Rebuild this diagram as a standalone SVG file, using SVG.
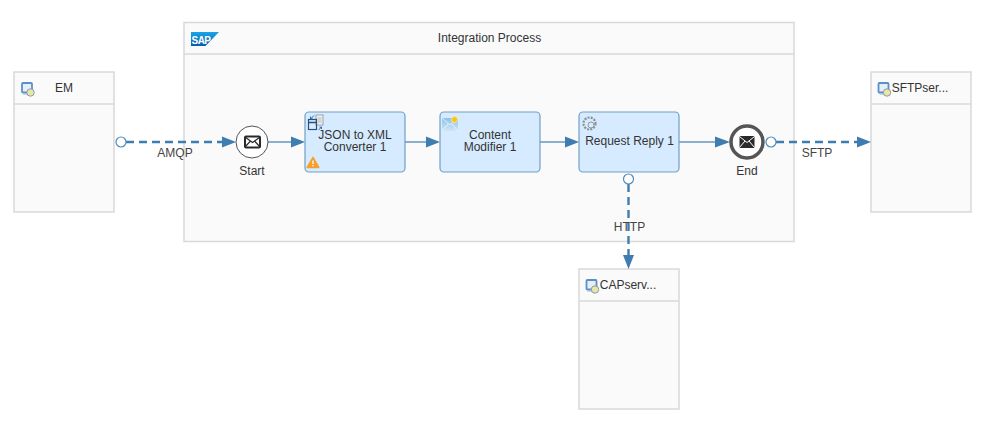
<svg xmlns="http://www.w3.org/2000/svg" width="985" height="421" viewBox="0 0 985 421">
<style>
text{font-family:"Liberation Sans",Arial,sans-serif;font-size:12px;fill:#333;text-anchor:middle}
.pool{fill:#fafafa;stroke:#d9d9d9;stroke-width:1.5}
.hd{fill:none;stroke:#d9d9d9;stroke-width:1.5}
.step{fill:#d6ebff;stroke:#6f9fc6;stroke-width:1.2}
.seq{fill:none;stroke:#8bb0cf;stroke-width:2}
.msg{fill:none;stroke:#3f7cb0;stroke-width:2.4;stroke-dasharray:8 5}
.port{fill:#fff;stroke:#4f8dbd;stroke-width:1.2}
.ah{fill:#3f7cb0}
.lbl{fill:#444}
</style>
<defs>
<g id="sys"><rect x="0" y="0" width="10" height="9.500" rx="1" fill="#e6eef7" stroke="#5b8fc7" stroke-width="1.800"/><path d="M1 11h8" stroke="#9fbcd9" stroke-width="1.200"/><circle cx="8.500" cy="9.500" r="3.700" fill="#e8e6a8" stroke="#8a9aa8"/></g>
<linearGradient id="sapg" x1="0" y1="0" x2="0" y2="1"><stop offset="0" stop-color="#18a5e6"/><stop offset="1" stop-color="#0a5cb0"/></linearGradient>
<linearGradient id="mailg" x1="0" y1="0" x2="0" y2="1"><stop offset="0" stop-color="#8ec2e6"/><stop offset="1" stop-color="#cfe6f5"/></linearGradient>
</defs>

<g id="integration-process">
<rect class="pool" x="184" y="22.500" width="610" height="219"/>
<path class="hd" d="M184 54h610"/>
<path d="M191 32h28l-13.500 14H191z" fill="url(#sapg)"/>
<text x="201" y="43.500" style="font-size:10px;font-weight:bold;fill:#fff;text-anchor:middle;letter-spacing:-0.600px">SAP</text>
<text x="489.500" y="42">Integration Process</text>
</g>

<g id="em">
<rect class="pool" x="14" y="72" width="100" height="140"/>
<path class="hd" d="M14 104h100"/>
<use href="#sys" x="22" y="83"/>
<text x="64" y="92">EM</text>
</g>

<g id="sftp">
<rect class="pool" x="871" y="72" width="100" height="140"/>
<path class="hd" d="M871 104h100"/>
<use href="#sys" x="878.500" y="83"/>
<text x="920" y="92">SFTPser...</text>
</g>

<g id="cap">
<rect class="pool" x="579" y="269" width="100" height="140"/>
<path class="hd" d="M579 301h100"/>
<use href="#sys" x="586.500" y="280"/>
<text x="628" y="289">CAPserv...</text>
</g>

<g id="connectors">
<path class="msg" d="M126 142H222"/>
<path class="ah" d="M222 136.500L236 142L222 147.500z"/>
<path class="seq" d="M268 142H292"/>
<path class="ah" d="M291 136.500L305 142L291 147.500z"/>
<path class="seq" d="M405 142H427"/>
<path class="ah" d="M426 136.500L440 142L426 147.500z"/>
<path class="seq" d="M540 142H566"/>
<path class="ah" d="M565 136.500L579 142L565 147.500z"/>
<path class="seq" d="M679 142H716"/>
<path class="ah" d="M715 136.500L730 142L715 147.500z"/>
<path class="msg" d="M776 142H857"/>
<path class="ah" d="M857 136.500L871 142L857 147.500z"/>
<path class="msg" d="M628.500 184V255"/>
<path class="ah" d="M623 255L628.500 269L634 255z"/>
<circle class="port" cx="121" cy="142" r="5"/>
<circle class="port" cx="771" cy="142" r="5"/>
<circle class="port" cx="628.500" cy="179" r="5"/>
<text class="lbl" x="175" y="157">AMQP</text>
<text class="lbl" x="817" y="157">SFTP</text>
<text class="lbl" x="629.500" y="231">HTTP</text>
</g>

<g id="start">
<circle cx="252" cy="142" r="16" fill="#fff" stroke="#555" stroke-width="1"/>
<rect x="245" y="136.500" width="15" height="11" rx="1" fill="#fff" stroke="#2a2a2a" stroke-width="2"/>
<path d="M245 137l7.500 5.500l7.500-5.500M245 147l5.500-6M260 147l-5.500-6" fill="none" stroke="#2a2a2a" stroke-width="1.200"/>
<text x="252" y="175">Start</text>
</g>

<g id="json">
<rect class="step" x="305" y="112" width="100" height="60" rx="4"/>
<rect x="316" y="115" width="7" height="10" fill="#f4f4ec" stroke="#8a8f96" stroke-width="0.800"/>
<path d="M317.500 118h4M317.500 120h4M317.500 122h4" stroke="#6f8fb0" stroke-width="0.600"/>
<rect x="308.500" y="119.500" width="8" height="10" fill="none" stroke="#2b4f7a" stroke-width="1.200"/>
<path d="M308.500 122.500h8" stroke="#2b4f7a" stroke-width="1.500"/>
<path d="M314 115.500l-3.500 3.500M310.500 116.500v2.500h2.500M318.500 130l3-3M319.500 127h2v2" stroke="#1f5fa8" fill="none" stroke-width="0.900"/>
<text x="355"><tspan x="355" y="139">JSON to XML</tspan><tspan x="355" y="151">Converter 1</tspan></text>
<path d="M313 157.500L318.800 167.500H307.200z" fill="#f5a02c" stroke="#f5a02c" stroke-linejoin="round" stroke-width="1.500"/>
<path d="M313 160.500v3.500M313 165v1.200" stroke="#fff" stroke-width="1.300"/>
</g>

<g id="content-modifier">
<rect class="step" x="440" y="112" width="100" height="60" rx="4"/>
<rect x="442" y="118" width="16" height="13" fill="url(#mailg)"/>
<path d="M442 118l8 7l8-7M442 131l6-7M458 131l-6-7" fill="none" stroke="#f0f8fc" stroke-width="0.800"/>
<circle cx="454.500" cy="119.500" r="3" fill="#f5c518" stroke="#f8e79a"/>
<text x="490"><tspan x="490" y="139">Content</tspan><tspan x="490" y="151">Modifier 1</tspan></text>
</g>

<g id="request-reply">
<rect class="step" x="579" y="112" width="100" height="60" rx="4"/>
<circle cx="589.500" cy="123.500" r="6" fill="none" stroke="#8a8f96" stroke-width="2.200" stroke-dasharray="2 1.200"/>
<circle cx="591" cy="125" r="3" fill="#d6ebff" stroke="#8a8f96" stroke-width="0.900"/>
<text x="629.500" y="145">Request Reply 1</text>
</g>

<g id="end">
<circle cx="747" cy="142" r="16" fill="#fff" stroke="#555" stroke-width="3.500"/>
<rect x="739.500" y="136" width="15" height="12" rx="1" fill="#2a2a2a"/>
<path d="M739.500 136.500l7.500 6l7.500-6M739.500 147.500l5.500-6.500M754.500 147.500l-5.500-6.500" fill="none" stroke="#fff" stroke-width="1"/>
<text x="747" y="175">End</text>
</g>
</svg>
